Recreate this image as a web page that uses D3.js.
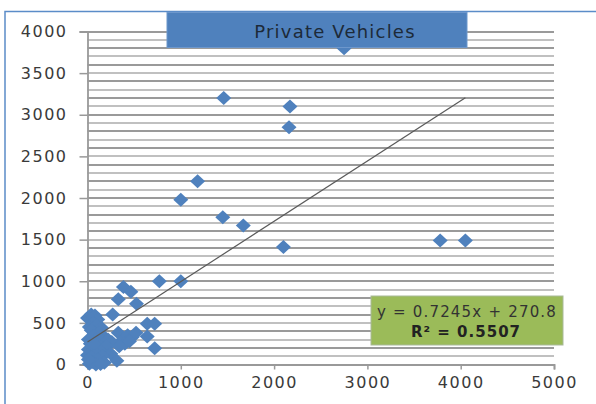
<!DOCTYPE html>
<html>
<head>
<meta charset="utf-8">
<script src="https://cdnjs.cloudflare.com/ajax/libs/d3/7.8.5/d3.min.js"></script>
<style>
  html, body { margin: 0; padding: 0; background: #fff; }
  text { font-family: "DejaVu Sans", sans-serif; }
</style>
</head>
<body>
<svg id="chart" width="596" height="404"></svg>
<script>
// data (vehicles x vs y)
const xVals = [0, 40, 80, 110, 60, 20, 100, 150, 40, 120, 70, 180, 10, 90, 150, 220, 260, 30, 110, 60,
  200, 10, 130, 80, 0, 40, 250, 160, 110, 50, 180, 20, 90, 140, 10, 70, 330, 380, 430, 480,
  520, 400, 450, 340, 270, 330, 385, 465, 525, 640, 720, 640, 720, 315, 770, 1000, 1000, 1180,
  1450, 1670, 2100, 1460, 2170, 2160, 2750, 3780, 4050];
const yVals = [560, 600, 590, 540, 500, 450, 470, 440, 410, 380, 350, 330, 300, 300, 290, 300, 270, 250, 240, 210,
  220, 180, 170, 140, 110, 90, 130, 100, 60, 30, 20, 10, 0, 5, 60, 250, 380, 300, 350, 330,
  380, 250, 280, 220, 600, 785, 930, 875, 730, 490, 490, 335, 195, 45, 1000, 1000, 1980, 2200,
  1770, 1670, 1410, 3200, 3100, 2850, 3800, 1490, 1490];
const xTicks = [0, 1000, 2000, 3000, 4000, 5000];
const yTicks = [0, 500, 1000, 1500, 2000, 2500, 3000, 3500, 4000];
const gridTicks = d3.range(100, 4001, 100);
const slope = 0.7245;
const intercept = 270.8;
const title = 'Private Vehicles';
const eqLabel = 'y = 0.7245x + 270.8';
const r2Label = 'R² = 0.5507';

const svg = d3.select('#chart');
const plot = { left: 87.5, right: 554, top: 31.5, bottom: 364.5 };

const x = d3.scaleLinear().domain([0, 5000]).range([plot.left, plot.right]);
const y = d3.scaleLinear().domain([0, 4000]).range([plot.bottom, plot.top]);

// outer frame (top + left edges visible)
svg.append('path')
  .attr('d', 'M5,404 L5,11.5 L596,11.5')
  .attr('fill', 'none')
  .attr('stroke', '#5b8cc8')
  .attr('stroke-width', 1.5);

// gridlines every 100, drawn as thin bands
svg.append('g')
  .selectAll('rect')
  .data(gridTicks)
  .join('rect')
  .attr('x', plot.left)
  .attr('width', plot.right - plot.left)
  .attr('y', (d) => Math.round(y(d)) - 1)
  .attr('height', 2)
  .attr('fill', (d, i) => (i % 2 ? '#9a9a9a' : '#c0c0c0'));

// axes
const xAxis = svg.append('g')
  .attr('transform', `translate(0,${plot.bottom})`)
  .call(d3.axisBottom(x).tickValues(xTicks).tickSize(5).tickPadding(7).tickFormat(d3.format('d')));
const yAxis = svg.append('g')
  .attr('transform', `translate(${plot.left},0)`)
  .call(d3.axisLeft(y).tickValues(yTicks).tickSize(8).tickPadding(12).tickFormat(d3.format('d')));

[xAxis, yAxis].forEach((ax) => {
  ax.select('.domain').attr('stroke', '#999').attr('stroke-width', 1.8);
  ax.selectAll('.tick line').attr('stroke', '#999').attr('stroke-width', 1.5);
  ax.selectAll('.tick text')
    .attr('fill', '#3a3a3a')
    .style('font-size', '16px')
    .style('letter-spacing', '1.5px')
    .style('font-family', '"DejaVu Sans", sans-serif');
});

// points
const pts = xVals.map((v, i) => ({ x: v, y: yVals[i] }));
const hw = 7.5, hh = 7;
svg.append('g')
  .selectAll('path')
  .data(pts)
  .join('path')
  .attr('d', (d) => {
    const cx = x(d.x), cy = y(d.y);
    return `M${cx},${cy - hh} L${cx + hw},${cy} L${cx},${cy + hh} L${cx - hw},${cy} Z`;
  })
  .attr('fill', '#4f81bd');

// linear trendline
const xMin = d3.min(xVals), xMax = d3.max(xVals);
svg.append('line')
  .attr('x1', x(xMin))
  .attr('y1', y(slope * xMin + intercept))
  .attr('x2', x(xMax))
  .attr('y2', y(slope * xMax + intercept))
  .attr('stroke', '#5a5a5a')
  .attr('stroke-width', 1.2);

// title box
svg.append('rect')
  .attr('x', 167).attr('y', 12.5).attr('width', 300).attr('height', 35)
  .attr('fill', '#4f81bd')
  .attr('stroke', '#6d97cc')
  .attr('stroke-width', 1);
svg.append('text')
  .attr('x', 335).attr('y', 38)
  .attr('text-anchor', 'middle')
  .attr('fill', '#1d2a38')
  .style('font-size', '18px')
  .style('letter-spacing', '1.2px')
  .text(title);

// equation label
svg.append('rect')
  .attr('x', 371).attr('y', 296).attr('width', 192).attr('height', 49)
  .attr('fill', '#9bbb59')
  .attr('stroke', '#a9b99a')
  .attr('stroke-width', 1);
svg.append('text')
  .attr('x', 467).attr('y', 317)
  .attr('text-anchor', 'middle')
  .attr('fill', '#333')
  .style('font-size', '15px')
  .style('letter-spacing', '1.2px')
  .text(eqLabel);
svg.append('text')
  .attr('x', 466).attr('y', 337)
  .attr('text-anchor', 'middle')
  .attr('fill', '#222')
  .style('font-size', '15px')
  .style('font-weight', 'bold')
  .style('letter-spacing', '1px')
  .text(r2Label);
</script>
</body>
</html>
